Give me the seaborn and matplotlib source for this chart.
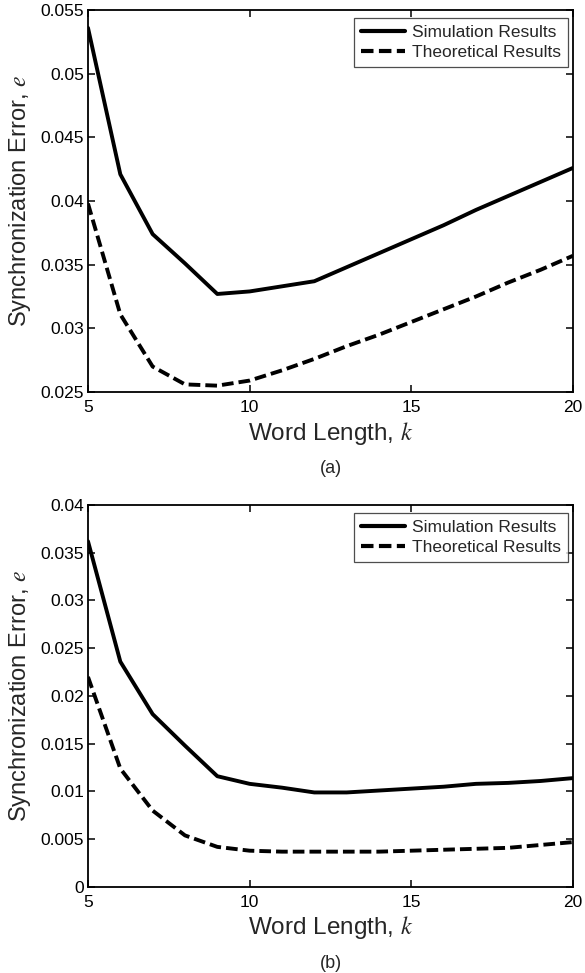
import numpy as np
import pandas as pd
import matplotlib
matplotlib.use("Agg")
import matplotlib.pyplot as plt
import seaborn as sns

# Data
k_vals = list(range(5, 21))
sim_a = [0.0536, 0.0421, 0.0374, 0.0351, 0.0327, 0.0329, 0.0333, 0.0337,
         0.0348, 0.0359, 0.0370, 0.0381, 0.0393, 0.0404, 0.0415, 0.0426]
theo_a = [0.0398, 0.0311, 0.0270, 0.0256, 0.0255, 0.0259, 0.0267, 0.0276,
          0.0286, 0.0295, 0.0305, 0.0315, 0.0325, 0.0336, 0.0346, 0.0357]
sim_b = [0.0362, 0.0236, 0.0181, 0.0148, 0.0116, 0.0108, 0.0104, 0.0099,
         0.0099, 0.0101, 0.0103, 0.0105, 0.0108, 0.0109, 0.0111, 0.0114]
theo_b = [0.0220, 0.0124, 0.0080, 0.0054, 0.0042, 0.0038, 0.0037, 0.0037,
          0.0037, 0.0037, 0.0038, 0.0039, 0.0040, 0.0041, 0.0044, 0.0047]

series_names = ["Simulation Results", "Theoretical Results"]
yticks_a = [0.025, 0.03, 0.035, 0.04, 0.045, 0.05, 0.055]
yticklabels_a = ["0.025", "0.03", "0.035", "0.04", "0.045", "0.05", "0.055"]
yticks_b = [0, 0.005, 0.01, 0.015, 0.02, 0.025, 0.03, 0.035, 0.04]
yticklabels_b = ["0", "0.005", "0.01", "0.015", "0.02", "0.025", "0.03", "0.035", "0.04"]
xticks = [5, 10, 15, 20]
captions = ["(a)", "(b)"]

sns.set_style("ticks")
plt.rcParams["font.family"] = ["Liberation Sans", "DejaVu Sans"]
plt.rcParams["mathtext.fontset"] = "stix"

fig = plt.figure(figsize=(5.85, 9.73), dpi=100)
ax_a = fig.add_axes([0.1504, 0.5971, 0.829, 0.3926])
ax_b = fig.add_axes([0.1504, 0.0884, 0.829, 0.3926])

panels = [
    (ax_a, sim_a, theo_a, (0.025, 0.055), yticks_a, yticklabels_a),
    (ax_b, sim_b, theo_b, (0.0, 0.04), yticks_b, yticklabels_b),
]

for i, (ax, sim, theo, ylim, yt, ytl) in enumerate(panels):
    df = pd.DataFrame({
        "k": k_vals * 2,
        "e": sim + theo,
        "series": [series_names[0]] * len(k_vals) + [series_names[1]] * len(k_vals),
    })
    sns.lineplot(data=df, x="k", y="e", style="series",
                 dashes={series_names[0]: "", series_names[1]: (3, 1.3)},
                 color="black", linewidth=2.8, ax=ax, legend=True)
    ax.set_xlim(5, 20)
    ax.set_ylim(*ylim)
    ax.set_xticks(xticks)
    ax.set_xticklabels([str(x) for x in xticks])
    ax.set_yticks(yt)
    ax.set_yticklabels(ytl)
    ax.tick_params(direction="in", top=True, right=True, length=5, width=1.1,
                   labelsize=12.5, colors="black")
    ax.tick_params(axis="x", pad=5.5)
    ax.tick_params(axis="y", pad=3)
    for s in ax.spines.values():
        s.set_linewidth(1.3)
        s.set_color("black")
        s.set_visible(True)
    ax.set_xlabel("Word Length, $k$", fontsize=17.5, labelpad=3.5)
    ax.set_ylabel("Synchronization Error, $e$", fontsize=17, labelpad=5)
    leg = ax.legend(loc="upper right", bbox_to_anchor=(0.9897, 0.979),
                    fontsize=12.5, frameon=True, fancybox=False,
                    handlelength=2.5, handletextpad=0.43, borderpad=0.4,
                    labelspacing=0.25, borderaxespad=0)
    leg.get_frame().set_edgecolor("#222222")
    leg.get_frame().set_linewidth(0.9)
    for line in leg.get_lines():
        line.set_linewidth(3)
    ax.text(0.5, -0.199, captions[i], transform=ax.transAxes, ha="center",
            va="center", fontsize=13)

fig.savefig("out.png", dpi=100)
